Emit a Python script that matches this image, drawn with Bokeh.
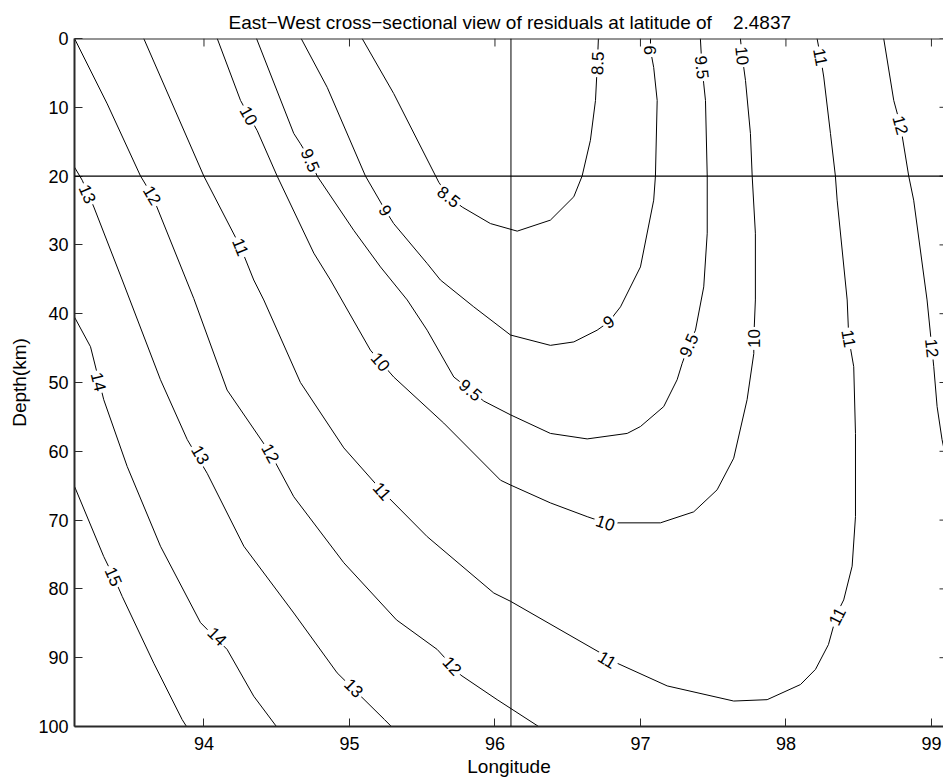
import math
from bokeh.plotting import figure
from bokeh.models import Range1d, Span, Title, FixedTicker
from bokeh.core.properties import value
from bokeh.embed import file_html
from bokeh.resources import INLINE

TITLE = "East\u2212West cross\u2212sectional view of residuals at latitude of\u00a0\u00a0\u00a0\u00a02.4837"
X_LABEL = "Longitude"
Y_LABEL = "Depth(km)"
x_ticks = [94, 95, 96, 97, 98, 99]
y_ticks = [0, 10, 20, 30, 40, 50, 60, 70, 80, 90, 100]

# reference lines
ref_depth = 20.0
ref_lon = 96.11

# contour lines (longitude, depth in km)
c15_lon = [93.110, 93.311, 93.378, 93.438, 93.655, 93.850, 93.880]
c15_dep = [65.1, 75.3, 78.2, 81.1, 90.8, 99.0, 100.0]

c14_lon = [93.110, 93.220, 93.311, 93.472, 93.701, 93.976, 94.159, 94.342, 94.498]
c14_dep = [40.5, 44.8, 52.5, 62.2, 73.8, 84.9, 88.8, 95.6, 100.0]

c13_lon = [93.110, 93.163, 93.243, 93.438, 93.701, 93.885, 94.022, 94.274, 94.617, 94.915, 95.241, 95.288]
c13_dep = [18.7, 20.6, 24.5, 35.1, 49.6, 58.3, 63.2, 73.8, 83.5, 92.2, 99.0, 100.0]

c12a_lon = [93.110, 93.335, 93.564, 93.644, 93.930, 94.159, 94.457, 94.617, 94.961, 95.323, 95.603, 95.763, 96.015, 96.300]
c12a_dep = [0.0, 9.5, 20.0, 22.8, 37.8, 51.1, 60.3, 66.6, 76.2, 84.5, 88.8, 92.5, 96.1, 100.0]

c12b_lon = [98.672, 98.741, 98.787, 98.844, 98.878, 98.970, 99.016, 99.039, 99.073, 99.116]
c12b_dep = [0.0, 9.0, 12.6, 20.0, 23.5, 38.0, 47.7, 53.5, 58.3, 62.7]

c11_lon = [93.586, 93.999, 94.251, 94.342, 94.411, 94.663, 94.961, 95.225, 95.534, 95.992, 96.107,
           96.725, 96.840, 97.184, 97.641, 97.871, 98.100, 98.203, 98.292, 98.352, 98.397, 98.455,
           98.478, 98.478, 98.466, 98.432, 98.421, 98.352, 98.340, 98.306, 98.260, 98.238, 98.214]
c11_dep = [0.0, 20.0, 30.3, 35.1, 38.0, 50.0, 59.5, 65.8, 72.4, 80.6, 81.8,
           89.3, 90.8, 94.1, 96.3, 96.1, 93.9, 91.7, 88.1, 83.5, 81.6, 76.7,
           69.5, 57.4, 47.7, 43.6, 38.0, 23.5, 20.0, 13.8, 5.6, 2.7, 0.0]

c10_lon = [94.091, 94.251, 94.308, 94.366, 94.503, 94.755, 94.869, 95.144, 95.213, 95.304, 95.648,
           96.038, 96.107, 96.381, 96.634, 96.759, 97.137, 97.366, 97.527, 97.641, 97.733, 97.779,
           97.779, 97.790, 97.790, 97.768, 97.756, 97.722, 97.699, 97.687]
c10_dep = [0.0, 9.0, 11.2, 13.4, 20.0, 31.2, 35.1, 45.3, 47.0, 49.2, 55.9,
           64.2, 64.9, 67.5, 69.5, 70.4, 70.4, 68.8, 65.6, 61.0, 52.5, 45.8,
           43.6, 38.0, 28.3, 20.0, 13.8, 6.1, 2.5, 0.0]

c95_lon = [94.361, 94.617, 94.663, 94.732, 94.778, 95.030, 95.213, 95.397, 95.534, 95.717, 95.832,
           95.923, 96.107, 96.381, 96.634, 96.909, 97.000, 97.160, 97.252, 97.287, 97.332, 97.378,
           97.435, 97.459, 97.459, 97.447, 97.435, 97.423, 97.412]
c95_dep = [0.0, 13.8, 15.3, 17.7, 20.0, 27.9, 33.2, 38.0, 42.4, 49.2, 51.1,
           52.7, 54.7, 57.4, 58.2, 57.4, 56.4, 53.5, 49.6, 47.2, 44.6, 42.4,
           36.1, 28.3, 20.0, 9.0, 6.6, 4.2, 0.0]

c9_lon = [94.668, 94.847, 95.110, 95.247, 95.304, 95.534, 95.625, 95.854, 96.107, 96.381, 96.542,
          96.702, 96.782, 96.863, 97.000, 97.091, 97.103, 97.115, 97.091, 97.069, 97.069]
c9_dep = [0.0, 7.1, 20.0, 25.0, 26.9, 32.7, 35.1, 39.0, 43.1, 44.6, 44.1,
          42.4, 41.2, 39.0, 33.2, 23.5, 20.0, 9.0, 4.2, 1.7, 0.0]

c85_lon = [95.087, 95.304, 95.614, 95.683, 95.775, 95.969, 96.153, 96.381, 96.542, 96.599, 96.656,
           96.691, 96.704, 96.711]
c85_dep = [0.0, 8.0, 20.9, 23.0, 24.5, 26.9, 28.0, 26.4, 23.0, 20.0, 14.8,
           9.0, 3.6, 0.0]

# contour labels
lab_txt = ["15", "14", "14", "13", "13", "13", "12", "12", "12", "12", "12",
           "11", "11", "11", "11", "11", "11",
           "10", "10", "10", "10", "10",
           "9.5", "9.5", "9.5", "9.5",
           "9", "9", "9", "8.5", "8.5"]
lab_lon = [93.378, 93.276, 94.091, 93.200, 93.976, 95.030, 93.644, 94.457, 95.706, 98.787, 99.003,
           94.251, 95.225, 96.771, 98.352, 98.432, 98.238,
           94.308, 95.213, 96.759, 97.779, 97.699,
           94.732, 95.832, 97.332, 97.423,
           95.247, 96.782, 97.069, 95.683, 96.704]
lab_dep = [78.2, 49.9, 86.9, 22.6, 60.5, 94.4, 22.8, 60.3, 91.2, 12.6, 45.0,
           30.3, 65.8, 90.3, 84.0, 43.6, 2.7,
           11.2, 47.0, 70.4, 43.6, 2.5,
           17.7, 51.1, 44.6, 4.2,
           25.0, 41.2, 1.7, 23.0, 3.6]

contours = {
    "15": [(c15_lon, c15_dep)],
    "14": [(c14_lon, c14_dep)],
    "13": [(c13_lon, c13_dep)],
    "12": [(c12a_lon, c12a_dep), (c12b_lon, c12b_dep)],
    "11": [(c11_lon, c11_dep)],
    "10": [(c10_lon, c10_dep)],
    "9.5": [(c95_lon, c95_dep)],
    "9": [(c9_lon, c9_dep)],
    "8.5": [(c85_lon, c85_dep)],
}

X0, X1 = 93.11, 99.083
W, H = 943, 779
L, R, T, B = 74, 0, 38, 52
px_per_lon = (W - L - R) / (X1 - X0)
px_per_km = (H - T - B) / 100.0
FRAME = "#2a2a2a"
FONT = "Liberation Sans"

p = figure(width=W, height=H, x_range=Range1d(X0, X1), y_range=Range1d(100, 0),
           output_backend="svg", toolbar_location=None,
           min_border_left=L, min_border_right=R, min_border_top=T, min_border_bottom=B,
           background_fill_color="white", border_fill_color="white", outline_line_color=None)
p.xgrid.visible = False
p.ygrid.visible = False

for ax in [p.xaxis[0], p.yaxis[0]]:
    ax.major_tick_in = 8
    ax.major_tick_out = 0
    ax.minor_tick_in = 0
    ax.minor_tick_out = 0
    ax.axis_line_color = FRAME
    ax.axis_line_width = 2
    ax.major_tick_line_color = FRAME
    ax.major_label_text_font = FONT
    ax.major_label_text_font_size = "18px"
    ax.major_label_text_color = "black"
    ax.axis_label_text_font = FONT
    ax.axis_label_text_font_size = "19px"
    ax.axis_label_text_font_style = "normal"
    ax.axis_label_text_color = "black"
p.xaxis[0].ticker = FixedTicker(ticks=x_ticks)
p.yaxis[0].ticker = FixedTicker(ticks=y_ticks)
p.xaxis[0].axis_label = X_LABEL
p.yaxis[0].axis_label = Y_LABEL
p.xaxis[0].major_label_standoff = 10
p.xaxis[0].axis_label_standoff = 3
p.yaxis[0].major_label_standoff = 6
p.yaxis[0].axis_label_standoff = 5

p.add_layout(Title(text=TITLE, align="left", offset=154, text_font=FONT, text_font_size="19px",
                   text_font_style="normal", text_color="black", standoff=12), "above")

# top frame line and mirrored ticks (top and right), pointing inward
p.add_layout(Span(location=0, dimension="width", line_color=FRAME, line_width=2))
tick_km = 8 / px_per_km
tick_lon = 8 / px_per_lon
p.segment(x0=x_ticks, y0=[0] * len(x_ticks), x1=x_ticks, y1=[tick_km] * len(x_ticks),
          line_color=FRAME, line_width=1)
right_edge = X0 + (947 - L) / px_per_lon
p.segment(x0=[right_edge] * len(y_ticks), y0=y_ticks, x1=[right_edge - tick_lon] * len(y_ticks),
          y1=y_ticks, line_color=FRAME, line_width=1)

for lvl, segs in contours.items():
    for lon, dep in segs:
        p.line(lon, dep, line_color="black", line_width=1)

p.add_layout(Span(location=ref_depth, dimension="width", line_color="black", line_width=1.3))
p.add_layout(Span(location=ref_lon, dimension="height", line_color="black", line_width=1))


def label_angle(lvl, lon0, dep0):
    best = None
    for lon, dep in contours[lvl]:
        for i in range(len(lon) - 1):
            mx = (lon[i] + lon[i + 1]) / 2
            my = (dep[i] + dep[i + 1]) / 2
            d = ((mx - lon0) * px_per_lon) ** 2 + ((my - dep0) * px_per_km) ** 2
            if best is None or d < best[0]:
                best = (d, lon[i + 1] - lon[i], dep[i + 1] - dep[i])
    dx = best[1] * px_per_lon
    dy = -best[2] * px_per_km
    a = math.atan2(dy, dx)
    if a > math.pi / 2:
        a -= math.pi
    if a <= -math.pi / 2:
        a += math.pi
    return a


angles = [label_angle(t, x, y) for t, x, y in zip(lab_txt, lab_lon, lab_dep)]
p.text(x=lab_lon, y=lab_dep, text=lab_txt, angle=angles, text_align="center",
       text_baseline="middle", text_font=value(FONT), text_font_size="17px",
       text_color="black", background_fill_color="white", padding=2)

open("out.html", "w").write(file_html(p, INLINE))
